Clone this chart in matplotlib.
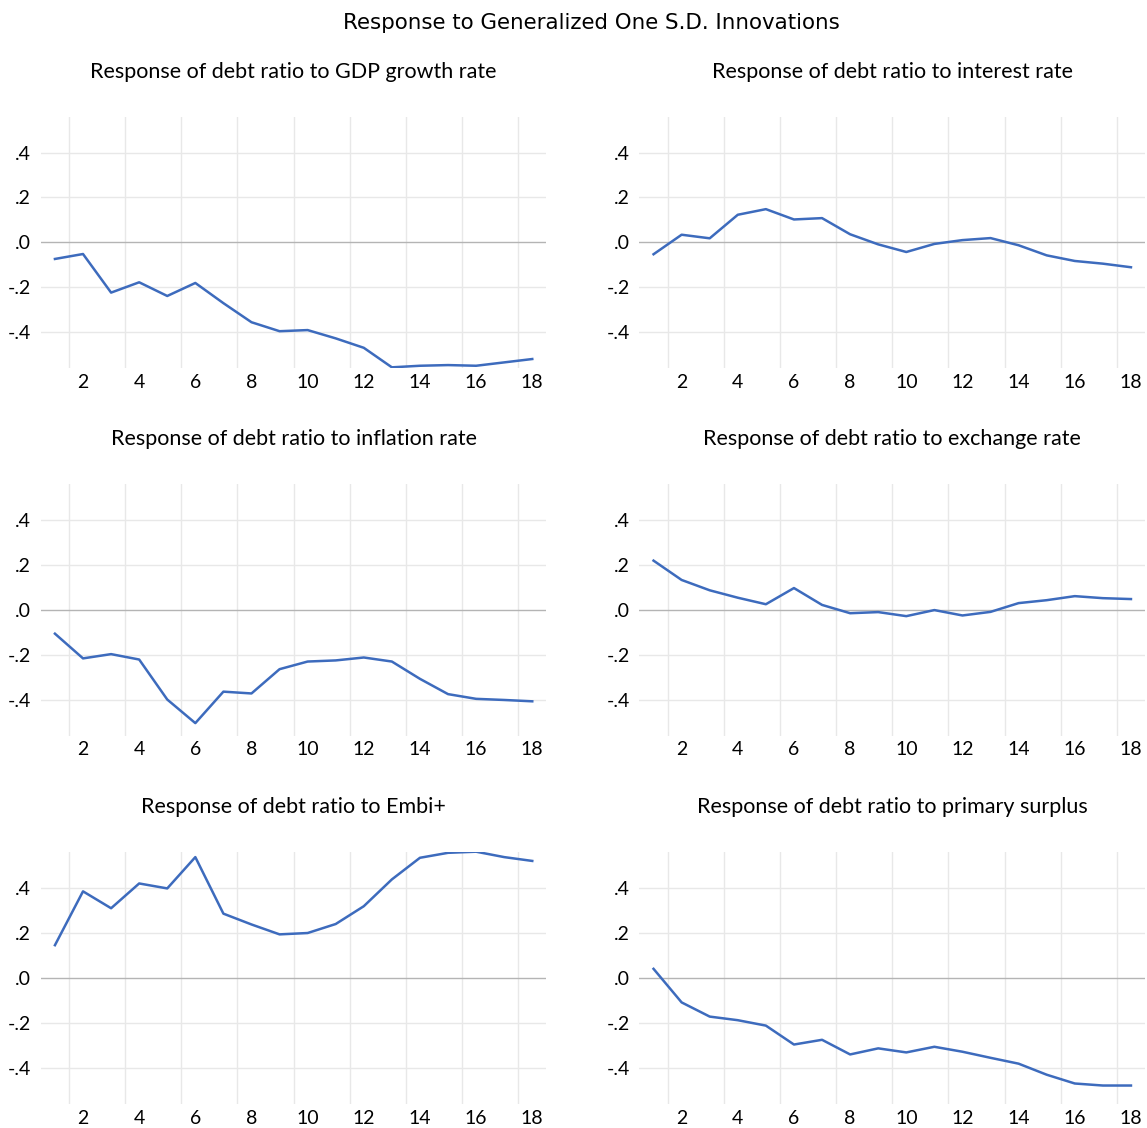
import matplotlib.pyplot as plt
import numpy as np

# Generalized impulse responses of the debt ratio, periods 1..18
periods = np.arange(1, 19)

resp_gdp = [-0.074, -0.052, -0.224, -0.178, -0.239, -0.181, -0.271, -0.356, -0.396,
            -0.391, -0.428, -0.470, -0.557, -0.550, -0.547, -0.550, -0.535, -0.520]
resp_interest = [-0.053, 0.034, 0.018, 0.123, 0.148, 0.102, 0.108, 0.036, -0.009,
                 -0.043, -0.007, 0.010, 0.019, -0.013, -0.058, -0.083, -0.095, -0.111]
resp_inflation = [-0.106, -0.216, -0.197, -0.221, -0.399, -0.504, -0.364, -0.372, -0.264,
                  -0.230, -0.225, -0.212, -0.230, -0.307, -0.375, -0.396, -0.401, -0.407]
resp_exchange = [0.219, 0.133, 0.087, 0.054, 0.025, 0.097, 0.022, -0.015, -0.010,
                 -0.028, -0.001, -0.025, -0.009, 0.030, 0.043, 0.061, 0.052, 0.048]
resp_embi = [0.145, 0.384, 0.309, 0.419, 0.397, 0.536, 0.285, 0.237, 0.193,
             0.199, 0.239, 0.318, 0.437, 0.533, 0.555, 0.560, 0.536, 0.519]
resp_surplus = [0.040, -0.109, -0.172, -0.188, -0.212, -0.296, -0.275, -0.340, -0.313,
                -0.331, -0.306, -0.328, -0.355, -0.381, -0.430, -0.469, -0.478, -0.478]

titles = ["Response of debt ratio to GDP growth rate",
          "Response of debt ratio to interest rate",
          "Response of debt ratio to inflation rate",
          "Response of debt ratio to exchange rate",
          "Response of debt ratio to Embi+",
          "Response of debt ratio to primary surplus"]
series = [resp_gdp, resp_interest, resp_inflation, resp_exchange, resp_embi, resp_surplus]

y_ticks = [-0.4, -0.2, 0.0, 0.2, 0.4]
y_ticklabels = ["-.4", "-.2", ".0", ".2", ".4"]
x_ticks = [2, 4, 6, 8, 10, 12, 14, 16, 18]

W, H = 1147, 1128
fig = plt.figure(figsize=(W / 100, H / 100), dpi=100)

# panel boxes in pixels: (left, top, right, bottom)
cols = [(40.9, 546.3), (639.5, 1145.0)]
rows = [(116.7, 368.0), (484.0, 735.7), (851.7, 1104.0)]

line_color = '#3d6bbd'
grid_color = '#e8e8e8'
zero_color = '#b4b4b4'

for i, (vals, title) in enumerate(zip(series, titles)):
    l, r = cols[i % 2]
    t, b = rows[i // 2]
    ax = fig.add_axes([l / W, 1 - b / H, (r - l) / W, (b - t) / H])

    # vertical grid between category pairs, horizontal grid at the y ticks
    for xg in np.arange(1.5, 18.5, 2):
        ax.axvline(xg, color=grid_color, lw=1.0, zorder=0)
    for yv in y_ticks:
        if yv == 0:
            ax.axhline(yv, color=zero_color, lw=1.0, zorder=1)
        else:
            ax.axhline(yv, color=grid_color, lw=1.0, zorder=0)

    ax.plot(periods, vals, color=line_color, lw=1.8, zorder=3)

    ax.set_xlim(0.5, 18.5)
    ax.set_ylim(-0.56, 0.56)
    ax.set_xticks(x_ticks)
    ax.set_xticklabels([str(x) for x in x_ticks])
    ax.set_yticks(y_ticks)
    ax.set_yticklabels(y_ticklabels)
    ax.tick_params(length=0, labelsize=14)
    ax.tick_params(axis='x', pad=4)
    ax.tick_params(axis='y', pad=7)
    for lab in ax.get_xticklabels() + ax.get_yticklabels():
        lab.set_family('Lato')
    for sp in ax.spines.values():
        sp.set_visible(False)

    ax.set_title(title, fontsize=15.5, family='Lato', pad=28)

fig.text(591 / W, 1 - 23 / H, "Response to Generalized One S.D. Innovations",
         ha='center', va='center', fontsize=15.4, family='DejaVu Sans')

fig.savefig('out.png', dpi=100)
